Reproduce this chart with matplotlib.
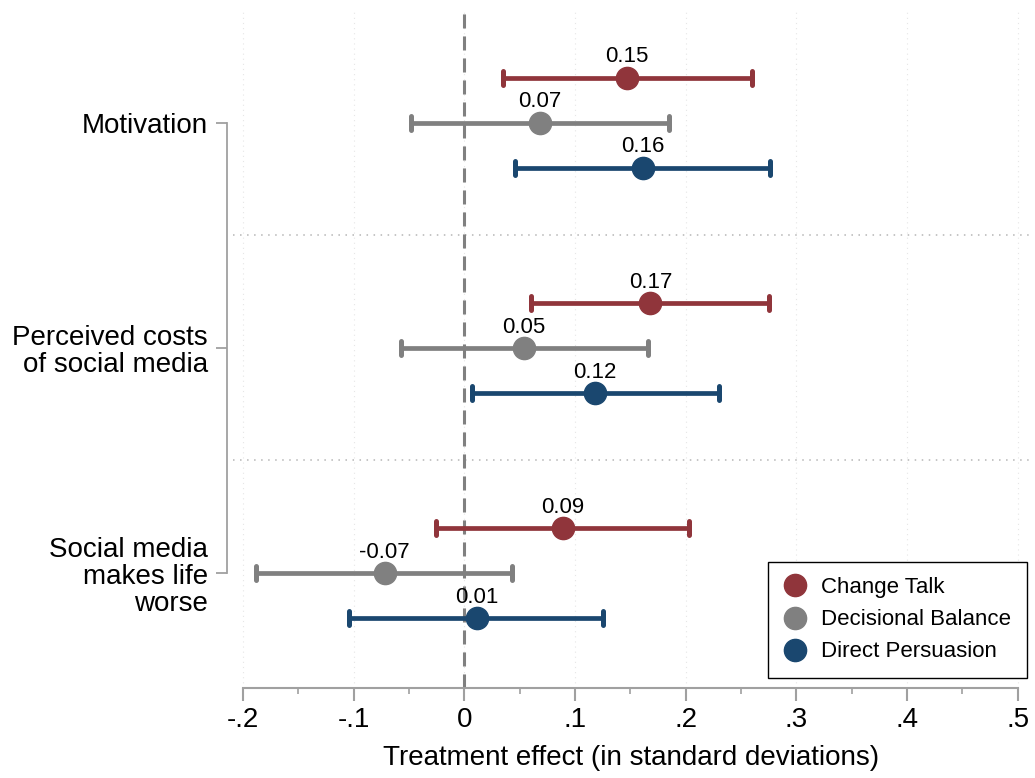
import matplotlib
matplotlib.use("Agg")
from matplotlib import pyplot as plt
from matplotlib.lines import Line2D
from matplotlib.markers import MarkerStyle

# outcomes, top to bottom
outcomes = ["Motivation", "Perceived costs\nof social media", "Social media\nmakes life\nworse"]
arms = ["Change Talk", "Decisional Balance", "Direct Persuasion"]
arm_colors = ["#90353b", "#808080", "#1a476f"]

# point estimates per arm (same order as outcomes)
change_talk = [0.147, 0.168, 0.089]
decisional_balance = [0.068, 0.054, -0.072]
direct_persuasion = [0.161, 0.118, 0.011]

# 95% confidence bounds
change_talk_lo = [0.035, 0.060, -0.026]
change_talk_hi = [0.260, 0.275, 0.203]
decisional_balance_lo = [-0.048, -0.057, -0.188]
decisional_balance_hi = [0.185, 0.166, 0.043]
direct_persuasion_lo = [0.046, 0.007, -0.104]
direct_persuasion_hi = [0.276, 0.230, 0.125]

x_ticks = [-0.2, -0.1, 0, 0.1, 0.2, 0.3, 0.4, 0.5]
x_tick_labels = ["-.2", "-.1", "0", ".1", ".2", ".3", ".4", ".5"]

estimates = [change_talk, decisional_balance, direct_persuasion]
lows = [change_talk_lo, decisional_balance_lo, direct_persuasion_lo]
highs = [change_talk_hi, decisional_balance_hi, direct_persuasion_hi]

plt.rcParams['font.family'] = ['Liberation Sans', 'DejaVu Sans']

fig = plt.figure(figsize=(10.35, 7.78), dpi=100)
ax = fig.add_axes([233 / 1035, 1 - 688 / 778, (1030 - 233) / 1035, (688 - 10) / 778])

# spines first: set_position resets the ticks
for side in ["top", "right"]:
    ax.spines[side].set_visible(False)
ax.spines["left"].set_position(("outward", 4))
ax.spines["bottom"].set_color("#a0a0a0")
ax.spines["bottom"].set_linewidth(1.5)
ax.spines["left"].set_color("#a0a0a0")
ax.spines["left"].set_linewidth(1.3)

group_pos = [0, 5, 10]
offsets = [-1, 0, 1]

for a, (est, lo, hi) in enumerate(zip(estimates, lows, highs)):
    for g in range(len(outcomes)):
        y = group_pos[g] + offsets[a]
        eb = ax.errorbar(est[g], y, xerr=[[est[g] - lo[g]], [hi[g] - est[g]]],
                         fmt="o", color=arm_colors[a], markersize=16, elinewidth=3.4,
                         capsize=5.2, capthick=3.6, zorder=3)
        for cap in eb[1]:
            cap.set_marker(MarkerStyle("|", capstyle="round"))
        ax.annotate(f"{est[g]:.2f}", (est[g], y), xytext=(0, 11), textcoords="offset points",
                    ha="center", va="baseline", fontsize=16, zorder=4)

ax.axvline(0, color="#808080", linestyle=(0, (4.6, 2.6)), linewidth=2.2, zorder=2)
for sep in [2.5, 7.5]:
    ax.axhline(sep, color="#b5b5b5", linestyle=(0, (1, 3.6)), linewidth=1.1, zorder=1)
for xt in x_ticks:
    ax.axvline(xt, color="#e6e6e6", linestyle=(0, (1, 3.6)), linewidth=0.8, zorder=0)

ax.set_xlim(-0.209, 0.511)
ax.set_ylim(12.55, -2.5)
ax.spines["bottom"].set_bounds(-0.2, 0.5)
ax.spines["left"].set_bounds(0, 10)

ax.set_xticks(x_ticks)
ax.set_xticklabels(x_tick_labels, fontsize=20)
ax.set_xticks([-0.15, -0.05, 0.05, 0.15, 0.25, 0.35, 0.45], minor=True)
ax.tick_params(axis="x", which="major", length=9, width=1.5, color="#a0a0a0", pad=5)
ax.tick_params(axis="x", which="minor", length=4.5, width=1.2, color="#a0a0a0")
ax.set_xlabel("Treatment effect (in standard deviations)", fontsize=20, labelpad=8)

ax.set_yticks(group_pos)
ax.set_yticklabels(outcomes, fontsize=20, linespacing=1.05)
ax.tick_params(axis="y", length=8, width=1.3, color="#a0a0a0", pad=6)

handles = [Line2D([], [], marker="o", linestyle="none", color=c, markersize=16) for c in arm_colors]
leg = ax.legend(handles, arms, loc="lower right", bbox_to_anchor=(1027 / 1035, 1 - 678 / 778),
                bbox_transform=fig.transFigure, borderaxespad=0, fontsize=16, frameon=True,
                fancybox=False, framealpha=1, edgecolor="black", handletextpad=0.7,
                labelspacing=0.5, borderpad=0.7, handlelength=1.0)
leg.get_frame().set_linewidth(1.0)

fig.savefig("out.png", dpi=100)
